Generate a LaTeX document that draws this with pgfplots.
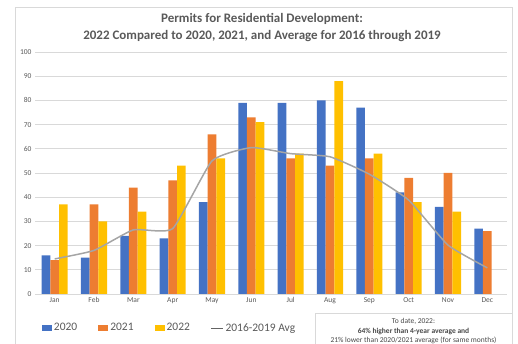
\documentclass[border=0pt]{standalone}
\usepackage{pgfplots}
\pgfplotsset{compat=1.18}
\usepackage{fontspec}
\setmainfont{Carlito}
\definecolor{cblue}{HTML}{4472C4}
\definecolor{corange}{HTML}{ED7D31}
\definecolor{cyellow}{HTML}{FFC000}
\definecolor{cgray}{HTML}{A5A5A5}
\definecolor{gridc}{HTML}{D9D9D9}
\definecolor{txt}{HTML}{595959}
\begin{document}
\begin{tikzpicture}
\useasboundingbox (0pt,0pt) rectangle (518pt,344pt);
\draw[gridc,line width=0.6pt] (15pt,0pt) -- (15pt,337pt) -- (512pt,337pt) -- (512pt,0pt);
\node[font=\bfseries\fontsize{13}{15}\selectfont,text=txt] at (262pt,325pt) {Permits for Residential Development:};
\node[font=\bfseries\fontsize{13}{15}\selectfont,text=txt] at (262pt,308pt) {2022 Compared to 2020, 2021, and Average for 2016 through 2019};
\begin{axis}[
  at={(35pt,50pt)}, anchor=south west,
  scale only axis, width=472pt, height=242pt,
  ymin=0, ymax=100, ytick={0,10,...,100},
  xmin=-0.5, xmax=11.5,
  xtick={0,...,11},
  xticklabels={Jan,Feb,Mar,Apr,May,Jun,Jul,Aug,Sep,Oct,Nov,Dec},
  ymajorgrids, grid style={gridc, line width=0.6pt},
  axis line style={draw=none},
  major tick length=0pt,
  tick label style={font=\fontsize{7.5}{9}\selectfont, text=txt},
  /pgf/number format/assume math mode=true,
  ybar=0pt, bar width=8.7pt,
  legend style={at={(0.008,-0.1405)}, anchor=west, draw=none, fill=none,
    font=\fontsize{11.5}{13}\selectfont, text=txt, legend columns=4,
    /tikz/every even column/.append style={column sep=19pt}},
  legend cell align=left,
]
\addplot[fill=cblue, draw=none, legend image code/.code={\fill[cblue] (0pt,-2.6pt) rectangle (10pt,2.6pt);}] coordinates {
 (0,16) (1,15) (2,24) (3,23) (4,38) (5,79) (6,79) (7,80) (8,77) (9,42) (10,36) (11,27)};
\addlegendentry{2020}
\addplot[fill=corange, draw=none, legend image code/.code={\fill[corange] (0pt,-2.6pt) rectangle (10pt,2.6pt);}] coordinates {
 (0,14) (1,37) (2,44) (3,47) (4,66) (5,73) (6,56) (7,53) (8,56) (9,48) (10,50) (11,26)};
\addlegendentry{2021}
\addplot[fill=cyellow, draw=none, legend image code/.code={\fill[cyellow] (0pt,-2.6pt) rectangle (10pt,2.6pt);}] coordinates {
 (0,37) (1,30) (2,34) (3,53) (4,56) (5,71) (6,58) (7,88) (8,58) (9,38) (10,34)};
\addlegendentry{2022}
\addplot[smooth, tension=0.28, cgray, line width=1.5pt, mark=none, fill=none,
  legend image code/.code={\draw[cgray!60!black, line width=0.6pt] (0pt,0pt) -- (12pt,0pt);}] coordinates {
 (0,14.5) (1,18) (2,26.5) (3,27) (4,55) (5,60.5) (6,58) (7,56.7) (8,49.5) (9,38.8) (10,20.2) (11,10.8)};
\addlegendentry{2016-2019 Avg}
\end{axis}
\draw[gridc,line width=0.6pt] (315pt,0pt) -- (315pt,31pt) -- (512pt,31pt);
\node[font=\fontsize{7.5}{9}\selectfont,text=txt!80!black] at (413.5pt,22.5pt) {To date, 2022:};
\node[font=\bfseries\fontsize{7.5}{9}\selectfont,text=txt!80!black] at (413.5pt,12pt) {64\% higher than 4-year average and};
\node[font=\fontsize{7.5}{9}\selectfont,text=txt!80!black] at (413.5pt,3.2pt) {21\% lower than 2020/2021 average (for same months)};
\end{tikzpicture}
\end{document}
